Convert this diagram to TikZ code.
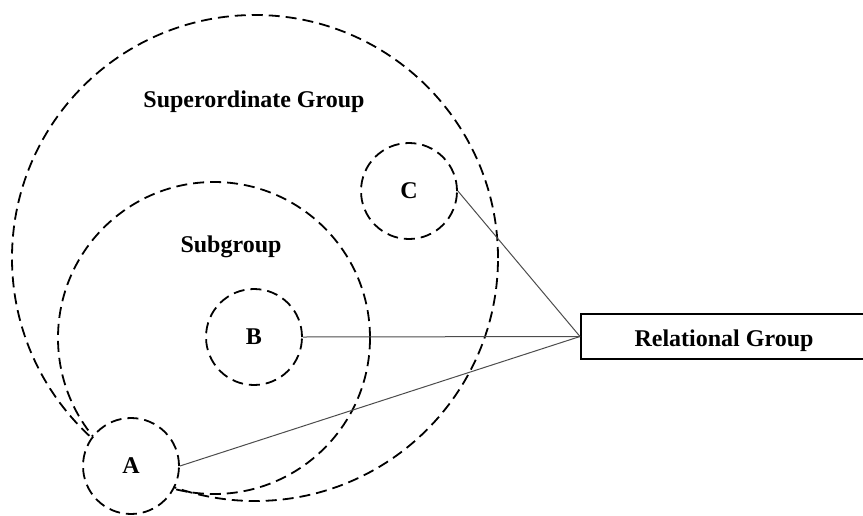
\documentclass[tikz,border=0pt]{standalone}
\usepackage{fontspec}
\setmainfont{Liberation Serif}

\begin{document}
\begin{tikzpicture}[x=1pt,y=-1pt,
  ring/.style={circle,draw,dashed,line width=1.8pt,dash pattern=on 11pt off 6pt,inner sep=0pt},
  member/.style={ring,fill=white,minimum size=96pt,font=\bfseries\fontsize{24}{28}\selectfont},
  link/.style={line width=1pt,black!70},
  lbl/.style={anchor=base,font=\bfseries\fontsize{24}{28}\selectfont}]
\useasboundingbox (0,0) rectangle (863,515);

\node[ring,minimum size=486pt] (Sup) at (255,258) {};
\node[ring,minimum size=312pt] (Sub) at (214,338) {};
\node[lbl] (SupText) at (254,107) {Superordinate Group};
\node[lbl] (SubText) at (231,252) {Subgroup};

\node[member] (A) at (131,466) {A};
\node[member] (B) at (254,337) {B};
\node[member] (C) at (409,191) {C};

% box runs off the right edge
\node[draw,line width=2pt,anchor=west,minimum width=340pt,minimum height=45pt] (Rel) at (580,336.5) {};
\node[lbl] (RelText) at (724,346) {Relational Group};

\draw[link] (C.east) -- (Rel.west);
\draw[link] (B.east) -- (Rel.west);
\draw[link] (A.east) -- (Rel.west);
\end{tikzpicture}
\end{document}
